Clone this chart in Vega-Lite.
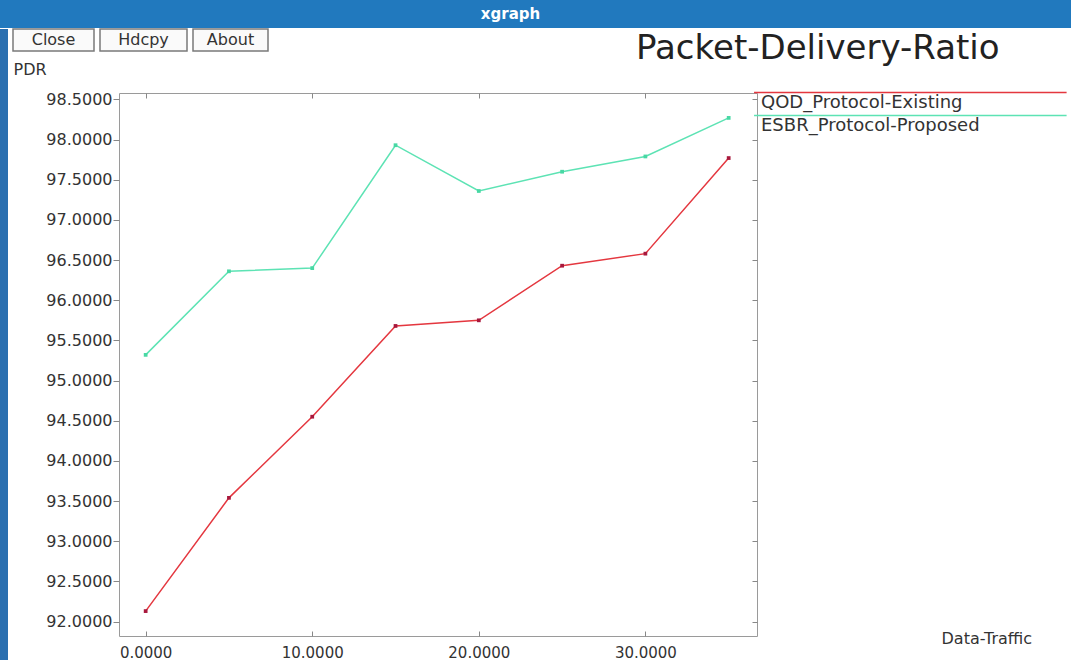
{
  "$schema": "https://vega.github.io/schema/vega-lite/v6.json",
  "padding": 0,
  "background": "white",
  "spacing": 0,
  "config": {"font": "DejaVu Sans"},
  "datasets": {
    "pdr": [
      {"traffic": 0, "pdr": 92.13, "protocol": "QOD_Protocol-Existing"},
      {"traffic": 5, "pdr": 93.54, "protocol": "QOD_Protocol-Existing"},
      {"traffic": 10, "pdr": 94.55, "protocol": "QOD_Protocol-Existing"},
      {"traffic": 15, "pdr": 95.68, "protocol": "QOD_Protocol-Existing"},
      {"traffic": 20, "pdr": 95.75, "protocol": "QOD_Protocol-Existing"},
      {"traffic": 25, "pdr": 96.43, "protocol": "QOD_Protocol-Existing"},
      {"traffic": 30, "pdr": 96.58, "protocol": "QOD_Protocol-Existing"},
      {"traffic": 35, "pdr": 97.77, "protocol": "QOD_Protocol-Existing"},
      {"traffic": 0, "pdr": 95.32, "protocol": "ESBR_Protocol-Proposed"},
      {"traffic": 5, "pdr": 96.36, "protocol": "ESBR_Protocol-Proposed"},
      {"traffic": 10, "pdr": 96.40, "protocol": "ESBR_Protocol-Proposed"},
      {"traffic": 15, "pdr": 97.93, "protocol": "ESBR_Protocol-Proposed"},
      {"traffic": 20, "pdr": 97.36, "protocol": "ESBR_Protocol-Proposed"},
      {"traffic": 25, "pdr": 97.60, "protocol": "ESBR_Protocol-Proposed"},
      {"traffic": 30, "pdr": 97.79, "protocol": "ESBR_Protocol-Proposed"},
      {"traffic": 35, "pdr": 98.27, "protocol": "ESBR_Protocol-Proposed"}
    ]
  },
  "vconcat": [
    {
      "width": 1071,
      "height": 28,
      "view": {"fill": "#2179be", "stroke": null},
      "data": {"values": [{"label": "xgraph"}]},
      "mark": {"type": "text", "color": "white", "fontWeight": "bold", "fontSize": 15, "dx": -25},
      "encoding": {"text": {"field": "label"}}
    },
    {
      "spacing": -34,
      "vconcat": [
        {
          "spacing": 4,
          "hconcat": [
            {
              "width": 8, "height": 64,
              "view": {"fill": "#2a6fb0", "stroke": null},
              "data": {"values": [{"label": ""}]},
              "mark": {"type": "text"},
              "encoding": {"text": {"field": "label"}}
            },
            {
              "width": 81, "height": 22,
              "view": {"fill": "#fafafa", "stroke": "#7a7a7a", "strokeWidth": 1.5},
              "data": {"values": [{"label": "Close"}]},
              "mark": {"type": "text", "fontSize": 16, "color": "#333"},
              "encoding": {"text": {"field": "label"}}
            },
            {
              "width": 87, "height": 22,
              "view": {"fill": "#fafafa", "stroke": "#7a7a7a", "strokeWidth": 1.5},
              "data": {"values": [{"label": "Hdcpy"}]},
              "mark": {"type": "text", "fontSize": 16, "color": "#333"},
              "encoding": {"text": {"field": "label"}}
            },
            {
              "width": 75, "height": 22,
              "view": {"fill": "#fafafa", "stroke": "#7a7a7a", "strokeWidth": 1.5},
              "data": {"values": [{"label": "About"}]},
              "mark": {"type": "text", "fontSize": 16, "color": "#333"},
              "encoding": {"text": {"field": "label"}}
            },
            {
              "width": 726, "height": 22,
              "view": {"stroke": null},
              "data": {"values": [{"label": "Packet-Delivery-Ratio"}]},
              "mark": {"type": "text", "fontSize": 34, "color": "#222", "align": "left", "baseline": "alphabetic", "dy": 19},
              "encoding": {"text": {"field": "label"}}
            }
          ]
        },
        {
          "spacing": 4,
          "hconcat": [
            {
              "width": 8, "height": 568,
              "view": {"fill": "#2a6fb0", "stroke": null},
              "data": {"values": [{"label": ""}]},
              "mark": {"type": "text"},
              "encoding": {"text": {"field": "label"}}
            },
            {
              "width": 638,
              "height": 543,
              "view": {"stroke": "#9a9a9a", "strokeWidth": 1, "fill": "white"},
              "data": {"name": "pdr"},
              "layer": [
                {
                  "mark": {"type": "line", "strokeWidth": 1.5},
                  "encoding": {
                    "x": {
                      "field": "traffic", "type": "quantitative",
                      "scale": {"domain": [-1.6, 36.7], "nice": false, "zero": false},
                      "axis": {
                        "orient": "bottom", "values": [0, 10, 20, 30], "format": ".4f",
                        "labelFontSize": 15, "labelColor": "#333", "labelPadding": 14, "labelFlush": false,
                        "tickSize": -5, "tickColor": "#888", "domain": false, "grid": false,
                        "title": "Data-Traffic", "titleX": 822, "titleY": 2, "titleAlign": "left",
                        "titleBaseline": "middle", "titleFontSize": 16, "titleFontWeight": "normal", "titleColor": "#333"
                      }
                    },
                    "y": {
                      "field": "pdr", "type": "quantitative",
                      "scale": {"domain": [91.82, 98.58], "nice": false, "zero": false},
                      "axis": {
                        "orient": "left",
                        "values": [92, 92.5, 93, 93.5, 94, 94.5, 95, 95.5, 96, 96.5, 97, 97.5, 98, 98.5],
                        "format": ".4f", "labelFontSize": 16, "labelColor": "#333", "labelPadding": 1,
                        "tickSize": 6, "tickColor": "#888", "domain": false, "grid": false,
                        "title": "PDR", "titleAngle": 0, "titleX": -106, "titleY": -24, "titleAlign": "left",
                        "titleBaseline": "middle", "titleFontSize": 16, "titleFontWeight": "normal", "titleColor": "#333"
                      }
                    },
                    "color": {
                      "field": "protocol", "type": "nominal",
                      "scale": {"domain": ["QOD_Protocol-Existing", "ESBR_Protocol-Proposed"], "range": ["#e4373f", "#5de3b4"]},
                      "legend": {
                        "orient": "none", "legendX": 635, "legendY": -0.5, "title": null,
                        "symbolType": "M-1.1,-1.1H31.8", "symbolSize": 361, "symbolStrokeWidth": 1.5,
                        "rowPadding": 0, "labelOffset": -14, "labelBaseline": "middle",
                        "labelFontSize": 18, "labelColor": "#333", "labelLimit": 0, "padding": 0
                      }
                    }
                  }
                },
                {
                  "mark": {"type": "square", "size": 14, "opacity": 1, "filled": true},
                  "encoding": {
                    "x": {
                      "field": "traffic", "type": "quantitative",
                      "scale": {"domain": [-1.6, 36.7], "nice": false, "zero": false},
                      "axis": {"orient": "top", "values": [0, 10, 20, 30], "labels": false, "title": null, "domain": false, "grid": false, "tickSize": -5, "tickColor": "#888"}
                    },
                    "y": {
                      "field": "pdr", "type": "quantitative",
                      "scale": {"domain": [91.82, 98.58], "nice": false, "zero": false},
                      "axis": {"orient": "right", "values": [92, 92.5, 93, 93.5, 94, 94.5, 95, 95.5, 96, 96.5, 97, 97.5, 98, 98.5], "labels": false, "title": null, "domain": false, "grid": false, "tickSize": -5, "tickColor": "#888"}
                    },
                    "color": {
                      "field": "protocol", "type": "nominal",
                      "scale": {"domain": ["QOD_Protocol-Existing", "ESBR_Protocol-Proposed"], "range": ["#a8183c", "#48d8a4"]},
                      "legend": null
                    }
                  }
                }
              ],
              "resolve": {"axis": {"x": "independent", "y": "independent"}, "scale": {"color": "independent"}}
            }
          ]
        }
      ]
    }
  ]
}
